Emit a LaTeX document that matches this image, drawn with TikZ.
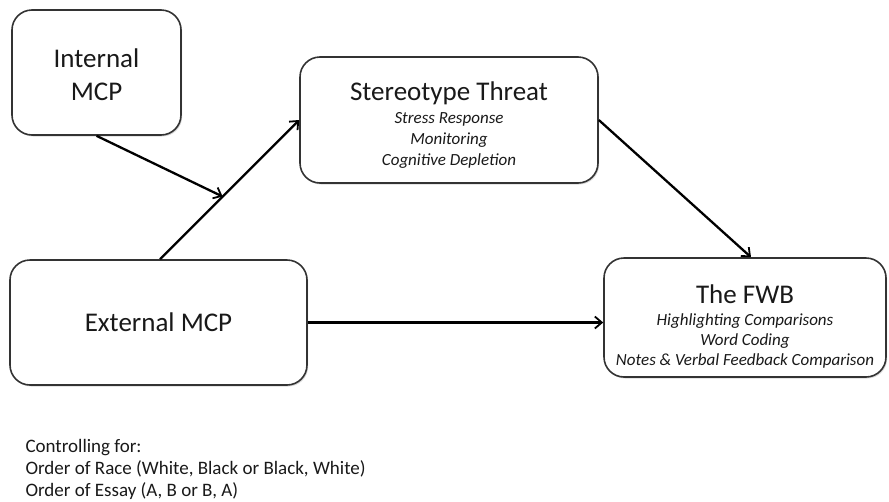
\documentclass[tikz,border=0pt]{standalone}
\usepackage{fontspec}
\setmainfont{Carlito}
\usetikzlibrary{arrows.meta,shadows,calc}
\tikzset{
  mbox/.style={draw=black!80, line width=1.6pt, rounded corners=20pt, fill=white,
    drop shadow={opacity=0.3, shadow xshift=1.2pt, shadow yshift=-1.5pt},
    inner sep=0pt},
  arr/.style={line width=2.3pt, -{Straight Barb[length=7pt,width=12pt,line width=1.8pt]}},
  ttl/.style={anchor=base, font=\fontsize{27}{27}\selectfont, text=black!90},
  sub/.style={anchor=base, font=\fontsize{17}{17}\selectfont\itshape, text=black!90},
  note/.style={anchor=base west, font=\fontsize{19}{19}\selectfont, text=black!90}
}
\begin{document}
\begin{tikzpicture}[x=1pt,y=-1pt]
\useasboundingbox (0,0) rectangle (889,501);
\node[mbox, minimum width=169pt, minimum height=125pt] (int) at (96.5,72.5) {};
\node[mbox, minimum width=298pt, minimum height=126pt] (st) at (449,120) {};
\node[mbox, minimum width=282pt, minimum height=119pt] (fwb) at (745,317.5) {};
\node[mbox, minimum width=297pt, minimum height=125pt] (ext) at (158.5,322.5) {};

\node[ttl] (int1) at (96.5,67) {Internal};
\node[ttl] (int2) at (96.5,100) {MCP};

\node[ttl] (st1) at (449,100) {Stereotype Threat};
\node[sub] (st2) at (449,123) {Stress Response};
\node[sub] (st3) at (449,144) {Monitoring};
\node[sub] (st4) at (449,165) {Cognitive Depletion};

\node[ttl] (fw1) at (745,303) {The FWB};
\node[sub] (fw2) at (745,325) {Highlighting Comparisons};
\node[sub] (fw3) at (745,345) {Word Coding};
\node[sub] (fw4) at (745,365) {Notes \& Verbal Feedback Comparison};

\node[ttl] (ex1) at (158.5,331) {External MCP};

\node[note] (n1) at (22,452) {Controlling for:};
\node[note] (n2) at (22,474) {Order of Race (White, Black or Black, White)};
\node[note] (n3) at (22,496) {Order of Essay (A, B or B, A)};

\coordinate (j) at ($([xshift=1.5pt]ext.north)!0.45!(st.west)$);
\draw[arr] ([xshift=1.5pt]ext.north) -- (st.west);
\draw[arr] (int.south) -- (j);
\draw[arr] (st.east) -- ([xshift=6pt]fwb.north);
\draw[arr] (ext.east) -- (ext.east -| fwb.west);
\end{tikzpicture}
\end{document}
